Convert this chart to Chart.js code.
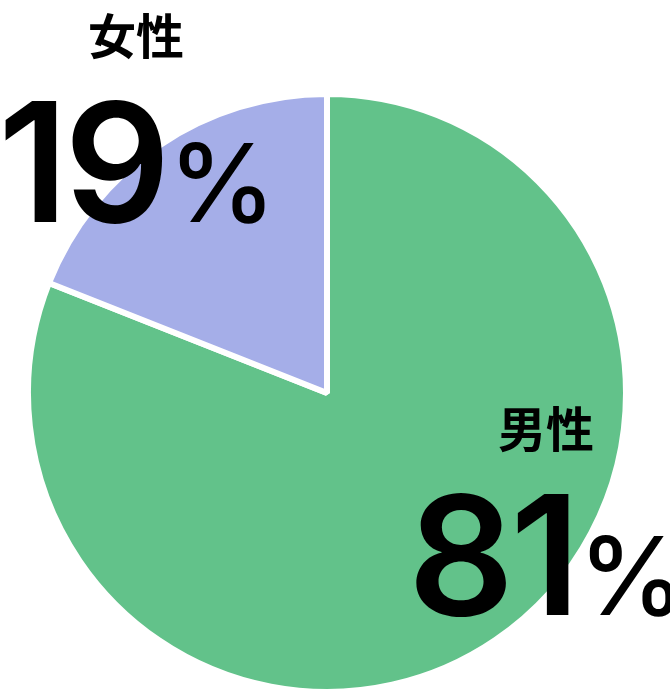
<!DOCTYPE html>
<html>
<head>
<meta charset="utf-8">
<script src="https://cdn.jsdelivr.net/npm/chart.js@4.4.0/dist/chart.umd.min.js"></script>
<style>
body { margin: 0; background: #fff; }
#wrap { position: relative; width: 670px; height: 693px; overflow: hidden; }
#pie { position: absolute; left: 0; top: 0; }
.name { position: absolute; font-family: "Noto Sans CJK JP"; font-weight: 700; font-size: 48px; line-height: 1; color: #000; white-space: nowrap; }
.pct { position: absolute; display: flex; align-items: baseline; font-family: Inter; color: #000; line-height: 1; white-space: nowrap; }
.pct .n { font-size: 166px; font-weight: 600; letter-spacing: -4px; }
.pct .p { font-size: 108px; font-weight: 500; margin-left: 2px; }
</style>
</head>
<body>
<div id="wrap">
  <canvas id="pie" width="670" height="696"></canvas>
</div>
<script>
var labels = ["男性", "女性"];
var values = [81, 19];
var colors = ["#62c28a", "#a5aee8"];

// where the texts go (left/top of the name, left/top of the number)
var spots = [
  { nx: 498, ny: 402, px: 408, py: 472 },
  { nx: 88, ny: 9, px: -2, py: 79 }
];

var ctx = document.getElementById("pie").getContext("2d");
var pie = new Chart(ctx, {
  type: "pie",
  data: {
    labels: labels,
    datasets: [{
      data: values,
      backgroundColor: colors,
      borderColor: "#fff",
      borderWidth: 6
    }]
  },
  options: {
    responsive: false,
    animation: false,
    layout: { padding: { left: 25, right: 41, top: 91, bottom: 1 } },
    plugins: {
      legend: { display: false },
      tooltip: { enabled: false }
    }
  }
});

var wrap = document.getElementById("wrap");
for (var i = 0; i < labels.length; i++) {
  var nm = document.createElement("div");
  nm.className = "name";
  nm.textContent = labels[i];
  nm.style.left = spots[i].nx + "px";
  nm.style.top = spots[i].ny + "px";
  wrap.appendChild(nm);

  var pc = document.createElement("div");
  pc.className = "pct";
  pc.innerHTML = '<span class="n">' + values[i] + '</span><span class="p">%</span>';
  pc.style.left = spots[i].px + "px";
  pc.style.top = spots[i].py + "px";
  wrap.appendChild(pc);
}
</script>
</body>
</html>
